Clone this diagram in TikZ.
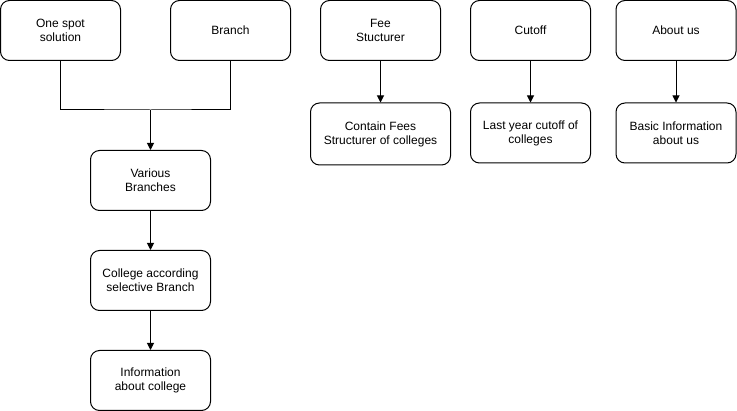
\documentclass[tikz,border=0pt]{standalone}
\usepackage{fontspec}
\setmainfont{Liberation Sans}
\usetikzlibrary{arrows.meta}
\begin{document}
\begin{tikzpicture}[x=1pt,y=-1pt,
  box/.style={draw=black,line width=1pt,rounded corners=9pt,minimum width=120pt,minimum height=60pt,inner sep=0pt,align=center,font=\fontsize{12}{14}\selectfont},
  conn/.style={line width=1pt},
  arr/.style={line width=1pt,-{Triangle[length=7pt,width=7pt]}}]
\useasboundingbox (0,0) rectangle (737,411);
\fill[white] (0,0) rectangle (737,411);
\node[box] (one) at (60.5,30.5) {One spot\\solution};
\node[box] (branch) at (230.5,30.5) {Branch};
\node[box] (fee) at (380.5,30.5) {Fee\\Stucturer};
\node[box] (cutoff) at (530.5,30.5) {Cutoff};
\node[box] (about) at (676,30.5) {About us};
\node[box,minimum width=140pt,minimum height=62pt] (contain) at (380.5,134) {Contain Fees\\Structurer of colleges};
\node[box] (last) at (530.5,133) {Last year cutoff of\\colleges};
\node[box] (basic) at (676,133) {Basic Information\\about us};
\node[box] (various) at (150.5,180.5) {Various\\Branches};
\node[box] (college) at (150.5,280.5) {College according\\selective Branch};
\node[box] (info) at (150.5,380.5) {Information\\about college};
\coordinate (j) at (150.5,110);
\draw[conn] (one.south) |- (j) -| (branch.south);
\draw[arr] (j) -- (various.north);
\draw[arr] (various) -- (college);
\draw[arr] (college) -- (info);
\draw[arr] (fee) -- (contain);
\draw[arr] (cutoff) -- (last);
\draw[arr] (about) -- (basic);
\end{tikzpicture}
\end{document}
